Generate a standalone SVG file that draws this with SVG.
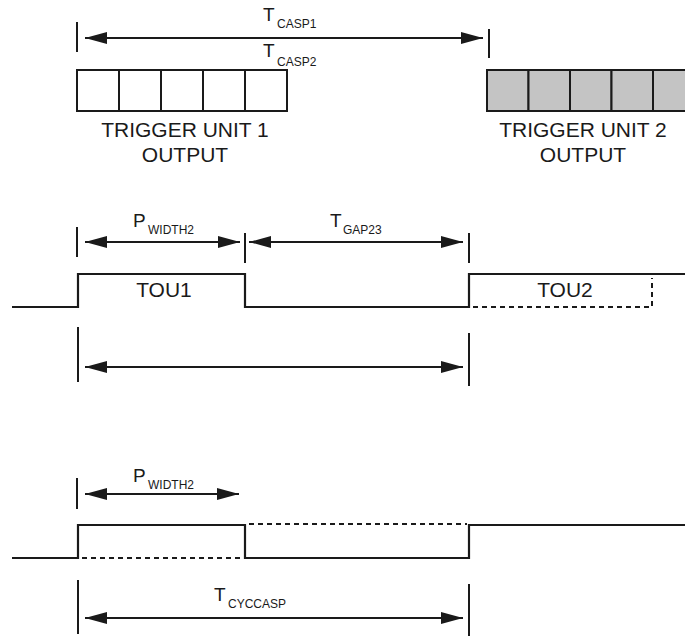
<svg xmlns="http://www.w3.org/2000/svg" width="685" height="636" viewBox="0 0 685 636">
<style>
  text { font-family: "Liberation Sans", Arial, sans-serif; fill: #1a1a1a; }
  .big { font-size: 21px; text-anchor: middle; }
  .lbl { font-size: 19px; }
  .sub { font-size: 12px; }
  .tick { stroke: #1a1a1a; stroke-width: 2; fill: none; }
  .arr { stroke: #1a1a1a; stroke-width: 2; fill: none; marker-start: url(#ah); marker-end: url(#ah); }
  .wave { stroke: #1a1a1a; stroke-width: 2.2; fill: none; stroke-linejoin: miter; }
  .dash { stroke: #1a1a1a; stroke-width: 2; fill: none; stroke-dasharray: 5 4; }
  .cell { stroke: #1a1a1a; stroke-width: 2; }
</style>
<defs>
  <marker id="ah" viewBox="0 0 22 12" markerWidth="22" markerHeight="12" refX="22" refY="6" orient="auto-start-reverse" markerUnits="userSpaceOnUse">
    <path d="M0,0 L22,6 L0,12 z" fill="#1a1a1a"/>
  </marker>
</defs>

<g id="trigger-unit-1">
  <g class="cell" fill="#ffffff">
    <rect x="77" y="70" width="42" height="41"/>
    <rect x="119" y="70" width="42" height="41"/>
    <rect x="161" y="70" width="42" height="41"/>
    <rect x="203" y="70" width="42" height="41"/>
    <rect x="245" y="70" width="42" height="41"/>
  </g>
  <text class="big" x="185" y="137">TRIGGER UNIT 1</text>
  <text class="big" x="185" y="162">OUTPUT</text>
</g>

<g id="trigger-unit-2">
  <g class="cell" fill="#c4c4c4">
    <rect x="487" y="70" width="41.5" height="41"/>
    <rect x="528.5" y="70" width="41.5" height="41"/>
    <rect x="570" y="70" width="41.5" height="41"/>
    <rect x="611.5" y="70" width="41.5" height="41"/>
    <rect x="653" y="70" width="41.5" height="41"/>
  </g>
  <text class="big" x="583" y="137">TRIGGER UNIT 2</text>
  <text class="big" x="583" y="162">OUTPUT</text>
</g>

<g id="labels">
  <text class="lbl" x="263" y="21">T<tspan class="sub" x="277" y="28">CASP1</tspan></text>
  <text class="lbl" x="263" y="57">T<tspan class="sub" x="277" y="66">CASP2</tspan></text>
  <text class="lbl" x="133" y="227">P<tspan class="sub" x="148" y="234">WIDTH2</tspan></text>
  <text class="lbl" x="330" y="227">T<tspan class="sub" x="343" y="234">GAP23</tspan></text>
  <text class="lbl" x="133" y="482">P<tspan class="sub" x="148" y="489">WIDTH2</tspan></text>
  <text class="lbl" x="214" y="601">T<tspan class="sub" x="228" y="608">CYCCASP</tspan></text>
  <text class="big" x="164" y="297">TOU1</text>
  <text class="big" x="565" y="297">TOU2</text>
</g>

<g id="connectors">
  <line class="tick" x1="77" y1="22" x2="77" y2="52"/>
  <line class="tick" x1="489" y1="29" x2="489" y2="58"/>
  <line class="arr" x1="85" y1="38" x2="483" y2="38"/>

  <line class="tick" x1="77" y1="227" x2="77" y2="257"/>
  <line class="tick" x1="245" y1="233" x2="245" y2="263"/>
  <line class="tick" x1="469" y1="233" x2="469" y2="263"/>
  <line class="arr" x1="85" y1="242" x2="240" y2="242"/>
  <line class="arr" x1="249" y1="242" x2="463" y2="242"/>

  <polyline class="wave" points="12,307 78,307 78,274 245,274 245,307 469,307 469,274 685,274"/>
  <polyline class="dash" points="473,307 652,307 652,278"/>

  <line class="tick" x1="78" y1="327" x2="78" y2="382"/>
  <line class="tick" x1="469" y1="333" x2="469" y2="386"/>
  <line class="arr" x1="85" y1="367" x2="463" y2="367"/>

  <line class="tick" x1="77" y1="478" x2="77" y2="509"/>
  <line class="arr" x1="85" y1="494" x2="239" y2="494"/>

  <polyline class="wave" points="12,558 78,558 78,525 245,525 245,558 469,558 469,525 685,525"/>
  <line class="dash" x1="82" y1="558" x2="243" y2="558"/>
  <line class="dash" x1="249" y1="524" x2="467" y2="524"/>

  <line class="tick" x1="78" y1="580" x2="78" y2="634"/>
  <line class="tick" x1="469" y1="584" x2="469" y2="636"/>
  <line class="arr" x1="85" y1="618" x2="463" y2="618"/>
</g>
</svg>
